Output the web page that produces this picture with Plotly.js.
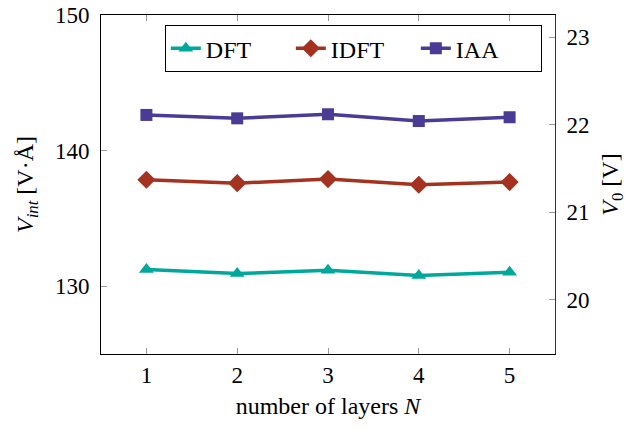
<!DOCTYPE html>
<html>
<head>
<meta charset="utf-8">
<script src="https://cdn.plot.ly/plotly-3.0.1.min.js"></script>
<style>html,body{margin:0;padding:0;background:#fff;}#chart{width:631px;height:429px;}</style>
</head>
<body>
<div id="chart"></div>
<script>
// Data
const layers = [1, 2, 3, 4, 5];
const dftValues = [131.23, 130.93, 131.18, 130.79, 131.03];
const idftValues = [137.85, 137.60, 137.90, 137.48, 137.68];
const iaaValues = [142.63, 142.38, 142.68, 142.18, 142.46];
const xTicks = [1, 2, 3, 4, 5];
const leftTicks = [130, 140, 150];
const rightTicks = [20, 21, 22, 23];
const leftRange = [125, 150];
const rightRange = [19.38, 23.256];

const FONT = 'Liberation Serif, "DejaVu Serif", serif';
const colors = {dft: '#00a89b', idft: '#a53220', iaa: '#4a3b94'};

const traces = [
  {x: layers, y: dftValues, name: 'DFT', mode: 'lines+markers', type: 'scatter',
   line: {color: colors.dft, width: 3.5}, marker: {symbol: 'triangle-up', size: 13, color: colors.dft}},
  {x: layers, y: idftValues, name: 'IDFT', mode: 'lines+markers', type: 'scatter',
   line: {color: colors.idft, width: 3.5}, marker: {symbol: 'diamond', size: 14, color: colors.idft}},
  {x: layers, y: iaaValues, name: 'IAA', mode: 'lines+markers', type: 'scatter',
   line: {color: colors.iaa, width: 3.5}, marker: {symbol: 'square', size: 12, color: colors.iaa}},
  {x: [], y: [], yaxis: 'y2', showlegend: false, hoverinfo: 'skip', type: 'scatter', mode: 'lines'}
];

const layout = {
  width: 631, height: 429,
  margin: {l: 101, r: 76, t: 15, b: 75},
  paper_bgcolor: '#fff', plot_bgcolor: '#fff',
  font: {family: FONT, size: 23, color: '#000'},
  showlegend: true,
  legend: {
    orientation: 'h', x: 0.971, xanchor: 'right', y: 0.97, yanchor: 'top',
    bordercolor: '#000', borderwidth: 1, bgcolor: '#fff',
    font: {family: FONT, size: 24, color: '#000'},
    entrywidth: 80, entrywidthmode: 'pixels', tracegroupgap: 0
  },
  xaxis: {
    range: [0.5, 5.5], tickvals: xTicks, ticktext: xTicks.map(String),
    showgrid: false, zeroline: false,
    showline: true, linecolor: '#000', linewidth: 1, mirror: 'ticks',
    ticks: 'inside', ticklen: 6, tickcolor: '#999', tickwidth: 1,
    tickfont: {family: FONT, size: 23},
    title: {text: 'number of layers <i>N</i>', font: {family: FONT, size: 24}, standoff: 10}
  },
  yaxis: {
    range: leftRange, tickvals: leftTicks, ticktext: leftTicks.map(String),
    showgrid: false, zeroline: false,
    showline: true, linecolor: '#000', linewidth: 1,
    ticks: 'inside', ticklen: 6, tickcolor: '#999', tickwidth: 1,
    ticklabelstandoff: 6,
    tickfont: {family: FONT, size: 23},
    title: {text: '<i>V</i><sub><i>int</i></sub> [V·Å]', font: {family: FONT, size: 24}, standoff: 14}
  },
  yaxis2: {
    overlaying: 'y', side: 'right', anchor: 'x',
    range: rightRange, tickvals: rightTicks, ticktext: rightTicks.map(String),
    showgrid: false, zeroline: false,
    showline: true, linecolor: '#333', linewidth: 1,
    ticks: 'inside', ticklen: 6, tickcolor: '#999', tickwidth: 1,
    ticklabelstandoff: 6,
    tickfont: {family: FONT, size: 23},
    title: {text: '<i>V</i><sub>0</sub> [V]', font: {family: FONT, size: 24}, standoff: 12}
  }
};

Plotly.newPlot('chart', traces, layout, {displayModeBar: false, staticPlot: true});
</script>
</body>
</html>
